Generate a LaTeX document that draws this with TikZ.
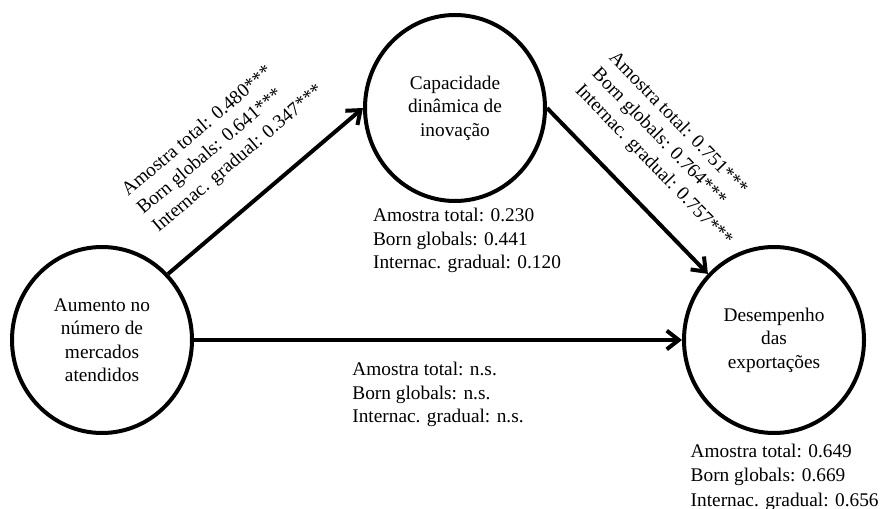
\documentclass[tikz,border=0pt]{standalone}
\usepackage{fontspec}
\setmainfont{Liberation Serif}
\usepackage{tikz}
\usetikzlibrary{arrows.meta,positioning,shapes.geometric}

\begin{document}
\begin{tikzpicture}[x=0.75pt,y=-0.75pt,
    font=\fontsize{14.5}{17.6}\selectfont,
    var/.style={draw,ellipse,line width=3pt,minimum width=135pt,minimum height=139.5pt,inner sep=0pt,align=center},
    lbl/.style={align=left,inner sep=0pt,outer sep=0pt},
    seta/.style={line width=3pt,-{Straight Barb[length=9pt,width=14pt]}}]
    \useasboundingbox (0,0) rectangle (884,509);
    % variables
    \node[var] (aum) at (102,340) {Aumento no\\número de\\mercados\\atendidos};
    \node[var] (cap) at (455,108) {Capacidade\\dinâmica de\\inovação};
    \node[var] (des) at (774,340) {Desempenho\\das\\exportações};

    % paths with coefficients
    \draw[seta] (aum.45) -- (cap.west)
        node[lbl,midway,sloped,above=25pt] (coefa) {Amostra total: 0.480***\\Born globals: 0.641***\\Internac. gradual: 0.347***};
    \draw[seta] (cap.east) -- (des.135)
        node[lbl,midway,sloped,above=20.5pt] (coefb) {Amostra total: 0.751***\\Born globals: 0.764***\\Internac. gradual: 0.757***};
    \draw[seta] (aum.east) -- (des.west)
        node[lbl,midway,below=16.75pt] (coefc) {Amostra total: n.s.\\Born globals: n.s.\\Internac. gradual: n.s.};

    % explained variance
    \node[lbl,below=4pt of cap,xshift=9pt] (rcap) {Amostra total: 0.230\\Born globals: 0.441\\Internac. gradual: 0.120};
    \node[lbl,font=\fontsize{14.5}{18.6}\selectfont,below=6.5pt of des,xshift=8pt] (rdes) {Amostra total: 0.649\\Born globals: 0.669\\Internac. gradual: 0.656};
\end{tikzpicture}
\end{document}
